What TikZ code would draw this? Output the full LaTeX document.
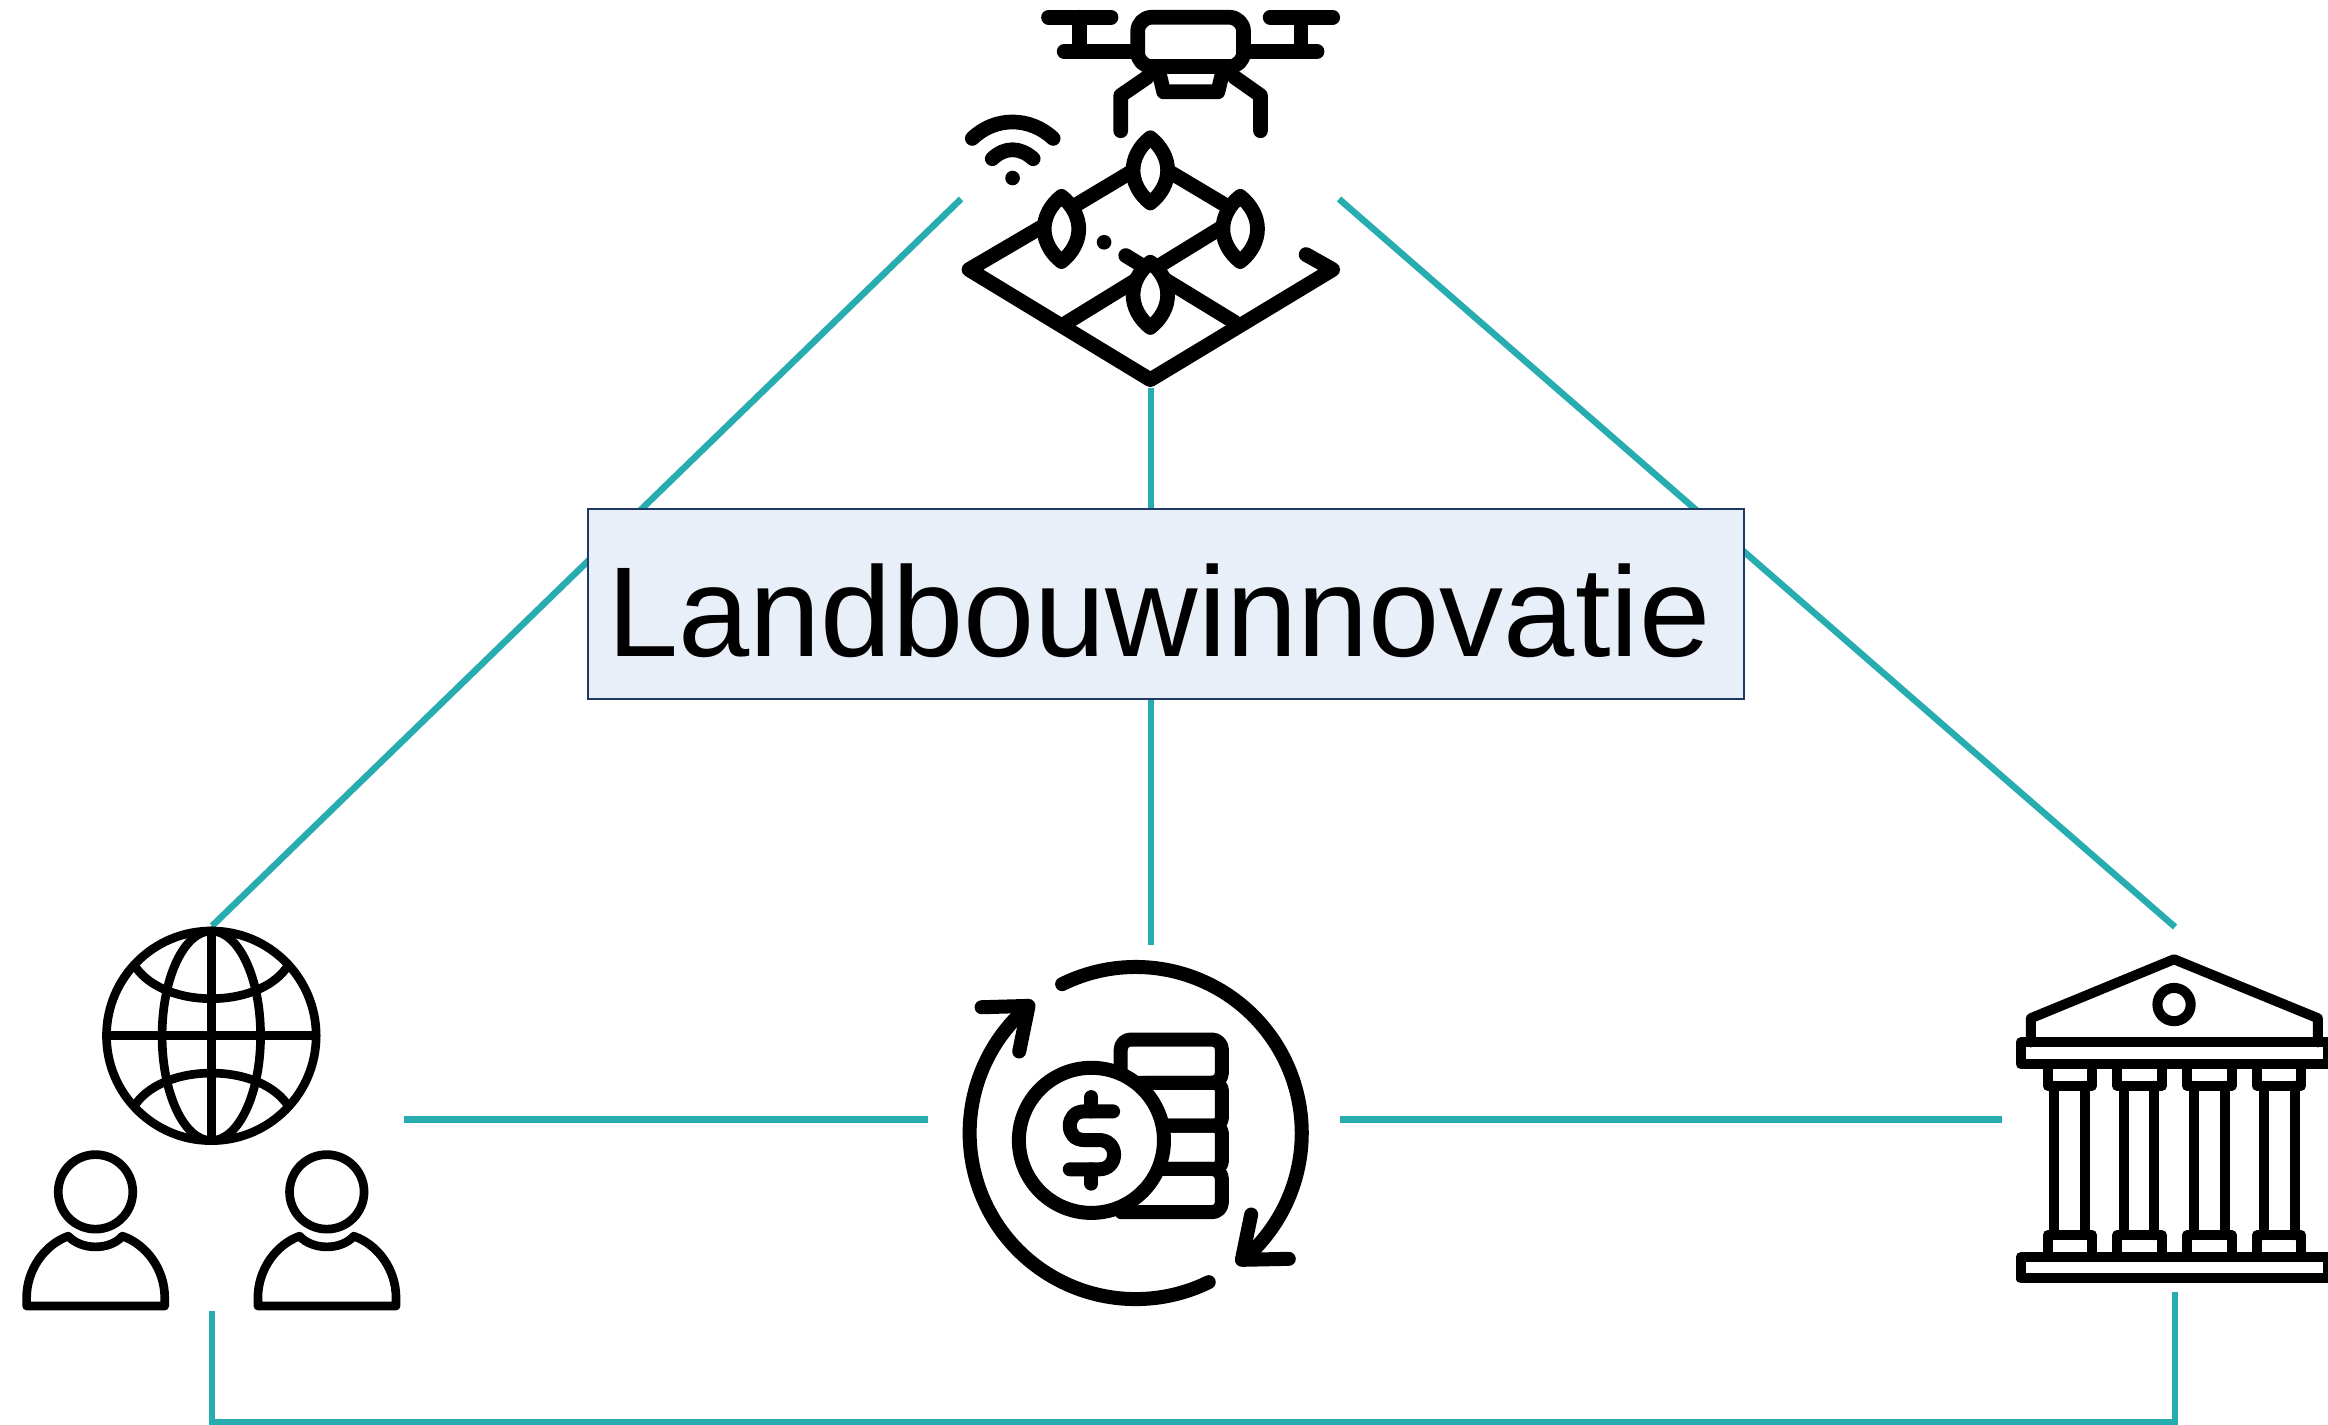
\documentclass[tikz,border=0pt]{standalone}
\usepackage{fontspec}
\setmainfont{Liberation Sans}
\usetikzlibrary{backgrounds}
\definecolor{teal1}{HTML}{27ADB0}
\definecolor{boxfill}{HTML}{E9EFF9}
\definecolor{boxline}{HTML}{1F3864}
\tikzset{
  link/.style={draw=teal1,line width=0.065cm,line cap=butt,line join=miter},
  labelbox/.style={draw=boxline,line width=0.02cm,fill=boxfill,minimum width=11.55cm,minimum height=1.89cm,inner sep=0pt,font=\fontsize{36.4}{40}\selectfont},
  iconline/.style={draw=black,line cap=round,line join=round},
  zoomed/.style={x=0.0033333cm,y=-0.0033333cm},
}
\begin{document}
\begin{tikzpicture}[x=0.01cm,y=-0.01cm]
\useasboundingbox (0,0) rectangle (2328,1425);
\clip (0,0) rectangle (2328,1425);
% label
\node[labelbox] (box) at (1166,604) {\raisebox{-0.52cm}[0pt][0pt]{\makebox[11.5cm]{\hspace*{-0.14cm}Landbouwinnovatie}}};
% connector ends
\coordinate (droneL) at (961,199);
\coordinate (droneR) at (1339,199);
\coordinate (droneB) at (1151,388);
\coordinate (globeT) at (212,926);
\coordinate (bankT) at (2175,927);
\coordinate (moneyT) at (1151,945);
\coordinate (peopleR) at (404,1119.5);
\coordinate (moneyL) at (928,1119.5);
\coordinate (moneyR) at (1340,1119.5);
\coordinate (bankL) at (2002,1119.5);
\coordinate (peopleB) at (212,1311);
\coordinate (bankB) at (2175,1292);
\coordinate (baseL) at (212,1422);
\coordinate (baseR) at (2175,1422);
\begin{pgfonlayer}{background}
\draw[link] (droneL) -- (globeT);
\draw[link] (droneR) -- (bankT);
\draw[link] (droneB) -- (moneyT);
\draw[link] (peopleR) -- (moneyL);
\draw[link] (moneyR) -- (bankL);
\draw[link] (peopleB) -- (baseL) -- (baseR) -- (bankB);
\end{pgfonlayer}

% drone and field
\begin{scope}[shift={(940,0)},zoomed,iconline,line width=0.147cm]
\draw (326,52) -- (514,52);
\draw (420,52) -- (420,155);
\draw (373,155) -- (590,155);
\draw (992,52) -- (1180,52);
\draw (1085,52) -- (1085,155);
\draw (912,155) -- (1133,155);
\draw[rounded corners=0.14cm] (594,52) rectangle (912,200);
\draw (655,205) -- (672,276) -- (835,276) -- (852,205);
\draw (623,232) -- (543,287) -- (543,393);
\draw (885,232) -- (963,287) -- (963,393);
\draw (97,416) .. controls (165,350) and (270,350) .. (340,416);
\draw (157,477) .. controls (195,441) and (240,441) .. (280,477);
\fill (218,535) circle[radius=22];
\fill (493,728) circle[radius=22];
\draw (1100,765) -- (1180,810) -- (632,1141) -- (87,810) -- (365,647);
\draw (365,642) -- (632,482);
\draw (632,482) -- (902,643);
\draw (902,649) -- (380,970);
\draw (558,768) -- (885,968);
\foreach \cx/\cy in {632/512,365/688,902/688,632/886}{
  \filldraw[fill=white] (\cx,\cy-98) .. controls (\cx+33,\cy-72) and (\cx+52,\cy-36) .. (\cx+52,\cy)
    .. controls (\cx+52,\cy+36) and (\cx+33,\cy+72) .. (\cx,\cy+98)
    .. controls (\cx-33,\cy+72) and (\cx-52,\cy+36) .. (\cx-52,\cy)
    .. controls (\cx-52,\cy-36) and (\cx-33,\cy-72) .. (\cx,\cy-98) -- cycle;
}
\end{scope}

% globe and people
\begin{scope}[shift={(0,910)},zoomed,iconline,line width=0.0867cm]
\draw (635,378) circle[x radius=315,y radius=315];
\draw (635,378) circle[x radius=148,y radius=315];
\draw (635,63) -- (635,693);
\draw (320,378) -- (950,378);
\draw (410,175) .. controls (500,297) and (770,297) .. (860,175);
\draw (410,580) .. controls (500,460) and (770,460) .. (860,580);
\foreach \dx in {0,695}{
  \draw (287+\dx,847) circle[x radius=112,y radius=112];
  \draw (80+\dx,1190) -- (80+\dx,1165) .. controls (80+\dx,1080) and (135+\dx,1005) .. (205+\dx,980)
    .. controls (245+\dx,1023) and (330+\dx,1023) .. (368+\dx,980)
    .. controls (440+\dx,1005) and (495+\dx,1080) .. (495+\dx,1165) -- (495+\dx,1190) -- cycle;
}
\end{scope}

% money cycle
\begin{scope}[shift={(940,940)},zoomed,iconline,line width=0.14cm]
\draw plot[domain=243.7:408,samples=70,smooth] ({588+499*cos(\x)},{580+499*sin(\x)});
\draw plot[domain=63.9:228,samples=70,smooth] ({588+499*cos(\x)},{580+499*sin(\x)});
\draw (1048,958) -- (907,961) -- (935,825);
\draw (125,202) -- (266,198) -- (238,335);
\draw[rounded corners=0.1cm] (600,429) -- (847,429) -- (847,299) -- (543,299) -- (543,400);
\draw[rounded corners=0.08cm] (620,429) -- (847,429) -- (847,558) -- (640,558);
\draw[rounded corners=0.08cm] (640,558) -- (847,558) -- (847,688) -- (640,688);
\draw[rounded corners=0.1cm] (640,688) -- (847,688) -- (847,818) -- (545,818);
\filldraw[fill=white] (455,602) circle[x radius=218,y radius=218];
\draw (455,472) -- (455,515);
\draw (455,689) -- (455,732);
\draw (520,515) -- (433,515) .. controls (405,515) and (390,535) .. (390,558)
  .. controls (390,582) and (405,601) .. (433,601) -- (478,601)
  .. controls (505,601) and (523,620) .. (523,645)
  .. controls (523,670) and (505,689) .. (478,689) -- (390,689);
\end{scope}

% bank
\begin{scope}[shift={(1990,930)},zoomed,iconline,line width=0.1cm]
\draw (123,338) -- (123,265) -- (553,88) -- (985,265) -- (985,338);
\draw (553,224) circle[x radius=50,y radius=50];
\draw (92,338) rectangle (1017,403);
\draw (92,983) rectangle (1017,1047);
\foreach \lx/\rx/\ca/\cb in {173/307/193/285,382/516/402/494,592/726/612/705,802/935/822/915}{
  \draw (\lx,403) -- (\lx,468) -- (\rx,468) -- (\rx,403);
  \draw (\lx,983) -- (\lx,917) -- (\rx,917) -- (\rx,983);
  \draw (\ca,468) -- (\ca,917);
  \draw (\cb,468) -- (\cb,917);
}
\end{scope}
\end{tikzpicture}
\end{document}
